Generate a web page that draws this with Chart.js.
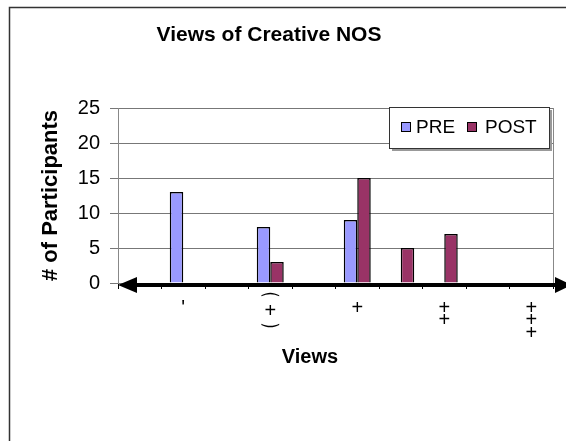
<!DOCTYPE html>
<html>
<head>
<meta charset="utf-8">
<script src="https://cdn.jsdelivr.net/npm/chart.js@4/dist/chart.umd.min.js"></script>
<style>
  html, body { margin: 0; padding: 0; background: #fff; }
  #wrap { width: 566px; height: 441px; position: relative; }
</style>
</head>
<body>
<div id="wrap"><canvas id="views-chart" width="566" height="441"></canvas></div>
<script>
// Views of Creative NOS - PRE vs POST counts
const chartTitle = 'Views of Creative NOS';
const xTitle = 'Views';
const yTitle = '# of Participants';

// 10 slots on the axis, labels only on every other one
const viewLabels = ['', "'", '', ['⁀', '+', '‿'], '', '+', '', ['+', '+'], '', ['+', '+', '+']];
const preCounts = [0, 13, 0, 8, 0, 9, 0, 0, 0, 0];
const postCounts = [0, 0, 0, 3, 0, 15, 5, 7, 0, 0];
const yTicks = [0, 5, 10, 15, 20, 25];

const FONT = 'Liberation Sans, Arial, "DejaVu Sans", sans-serif';

// frame, titles, thick arrow axis and the boxed legend
const decorPlugin = {
  id: 'decor',
  beforeDraw(chart) {
    const ctx = chart.ctx;
    ctx.save();
    ctx.fillStyle = '#fff';
    ctx.fillRect(0, 0, chart.width, chart.height);
    ctx.strokeStyle = '#333';
    ctx.lineWidth = 1.5;
    ctx.beginPath();
    ctx.moveTo(9.5, chart.height);
    ctx.lineTo(9.5, 7.5);
    ctx.lineTo(chart.width, 7.5);
    ctx.stroke();
    ctx.restore();
  },
  afterDraw(chart) {
    const ctx = chart.ctx;
    const area = chart.chartArea;
    ctx.save();

    // plot area right border
    ctx.strokeStyle = '#888';
    ctx.lineWidth = 1;
    ctx.beginPath();
    ctx.moveTo(area.right + 0.5, area.top);
    ctx.lineTo(area.right + 0.5, area.bottom);
    ctx.stroke();

    // thick axis with arrows at both ends
    const y0 = chart.scales.y.getPixelForValue(0) + 2;
    ctx.strokeStyle = '#000';
    ctx.fillStyle = '#000';
    ctx.lineWidth = 4;
    ctx.beginPath();
    ctx.moveTo(area.left + 10, y0);
    ctx.lineTo(chart.width - 5, y0);
    ctx.stroke();
    ctx.beginPath();
    ctx.moveTo(area.left, y0);
    ctx.lineTo(area.left + 19, y0 - 8);
    ctx.lineTo(area.left + 19, y0 + 8);
    ctx.closePath();
    ctx.fill();
    ctx.beginPath();
    ctx.moveTo(area.right + 19, y0);
    ctx.lineTo(area.right + 2, y0 - 8);
    ctx.lineTo(area.right + 2, y0 + 8);
    ctx.closePath();
    ctx.fill();

    // titles
    ctx.fillStyle = '#000';
    ctx.textAlign = 'center';
    ctx.textBaseline = 'middle';
    ctx.font = 'bold 21px ' + FONT;
    ctx.fillText(chartTitle, 269, 35);
    ctx.font = 'bold 20px ' + FONT;
    ctx.fillText(xTitle, 310, 357);

    // legend box
    const lx = 389, ly = 107, lw = 160, lh = 41;
    ctx.fillStyle = '#999';
    ctx.fillRect(lx + 3, ly + 3, lw, lh);
    ctx.fillStyle = '#fff';
    ctx.fillRect(lx, ly, lw, lh);
    ctx.strokeStyle = '#333';
    ctx.lineWidth = 1;
    ctx.strokeRect(lx + 0.5, ly + 0.5, lw, lh);
    ctx.font = '19px ' + FONT;
    ctx.textAlign = 'left';
    ctx.textBaseline = 'middle';
    const items = [[401, 416], [467, 485]];
    chart.data.datasets.forEach((ds, i) => {
      const [sx, tx] = items[i];
      ctx.fillStyle = ds.backgroundColor;
      ctx.fillRect(sx, 122, 9, 9);
      ctx.strokeStyle = '#000';
      ctx.strokeRect(sx + 0.5, 122.5, 9, 9);
      ctx.fillStyle = '#000';
      ctx.fillText(ds.label, tx, 128);
    });
    ctx.restore();
  }
};

new Chart(document.getElementById('views-chart'), {
  type: 'bar',
  data: {
    labels: viewLabels,
    datasets: [{
      label: 'PRE',
      data: preCounts,
      backgroundColor: '#9999ff',
      borderColor: '#000',
      borderWidth: 1.5,
      categoryPercentage: 0.62,
      barPercentage: 1
    }, {
      label: 'POST',
      data: postCounts,
      backgroundColor: '#993366',
      borderColor: '#000',
      borderWidth: 1.5,
      categoryPercentage: 0.62,
      barPercentage: 1
    }]
  },
  options: {
    responsive: false,
    animation: false,
    layout: { padding: { left: 0, right: 13, top: 108, bottom: 0 } },
    plugins: {
      legend: { display: false },
      title: { display: false },
      tooltip: { enabled: false }
    },
    scales: {
      x: {
        offset: true,
        afterFit(scale) { scale.height = 158; },
        border: { display: false },
        grid: {
          offset: true,
          drawOnChartArea: false,
          drawTicks: true,
          tickLength: 6,
          color: '#000'
        },
        ticks: {
          autoSkip: false,
          maxRotation: 0,
          padding: 13,
          color: '#000',
          // the bracketed label needs its arcs pulled in closer
          font: (c) => {
            const lbl = viewLabels[c.index];
            const tight = Array.isArray(lbl) && lbl[0] === '⁀';
            return { family: FONT, size: 20, lineHeight: tight ? 0.3 : 0.62 };
          }
        }
      },
      y: {
        min: 0,
        max: 25,
        afterFit(scale) { scale.width = 118; },
        afterBuildTicks(scale) { scale.ticks = yTicks.map(v => ({ value: v })); },
        border: { display: true, color: '#888' },
        grid: { color: '#777', tickLength: 8 },
        ticks: {
          padding: 10,
          color: '#000',
          font: { family: FONT, size: 20 }
        },
        title: {
          display: true,
          text: yTitle,
          color: '#000',
          padding: { top: 38, bottom: 0 },
          font: { family: FONT, size: 22, weight: 'bold' }
        }
      }
    }
  },
  plugins: [decorPlugin]
});
</script>
</body>
</html>
